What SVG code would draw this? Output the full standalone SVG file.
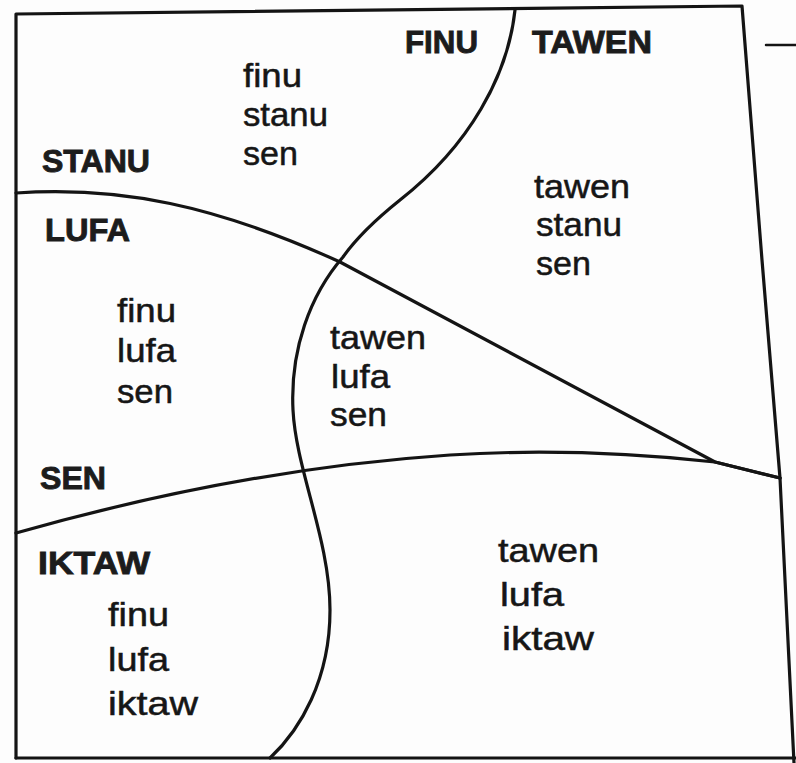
<svg xmlns="http://www.w3.org/2000/svg" width="796" height="763" viewBox="0 0 796 763">
<style>
.ln{fill:none;stroke:#141414;stroke-width:3.2;stroke-linejoin:round;stroke-linecap:round}
.b{font-family:"Liberation Sans",Arial,sans-serif;font-weight:bold;font-size:32px;fill:#1c1c1c;stroke:#1c1c1c;stroke-width:0.9}
.r{font-family:"Liberation Sans",Arial,sans-serif;font-size:33px;fill:#161616;stroke:#161616;stroke-width:0.5}
</style>
<rect width="796" height="763" fill="#fdfdfd"/>
<g id="border">
<path class="ln" d="M16,758 L16,14 L742,6 L762,260 L780,478 L794,763"/>
<path class="ln" d="M16,758 L796,758"/>
<path class="ln" d="M766,45 L796,45" style="stroke-width:2.5"/>
</g>
<g id="connectors">
<path id="stanu-lufa" class="ln" d="M16,193 C120,186 215,205 340,262 L715,462 L780,478"/>
<path id="sen-line" class="ln" d="M16,533 C150,495 300,465 450,455 C560,448 650,455 715,462 L780,478"/>
<path id="finu-tawen" class="ln" d="M515,10 C508,75 470,145 400,200 C375,220 355,240 343,257 C310,295 290,350 293,410 C296,470 330,540 330,610 C330,680 300,730 270,758"/>
</g>
<g id="label-FINU"><text class="b" x="405" y="53" textLength="73" lengthAdjust="spacingAndGlyphs">FINU</text></g>
<g id="label-TAWEN"><text class="b" x="532" y="53" textLength="120" lengthAdjust="spacingAndGlyphs">TAWEN</text></g>
<g id="label-STANU"><text class="b" x="42" y="172" textLength="108" lengthAdjust="spacingAndGlyphs">STANU</text></g>
<g id="label-LUFA"><text class="b" x="45" y="241" textLength="85" lengthAdjust="spacingAndGlyphs">LUFA</text></g>
<g id="label-SEN"><text class="b" x="40" y="489" textLength="66" lengthAdjust="spacingAndGlyphs">SEN</text></g>
<g id="label-IKTAW"><text class="b" x="38" y="574" textLength="112" lengthAdjust="spacingAndGlyphs">IKTAW</text></g>
<g id="region-finu-stanu-sen">
<text class="r" x="243" y="87" textLength="59" lengthAdjust="spacingAndGlyphs">finu</text>
<text class="r" x="243" y="126" textLength="85" lengthAdjust="spacingAndGlyphs">stanu</text>
<text class="r" x="243" y="165" textLength="55" lengthAdjust="spacingAndGlyphs">sen</text>
</g>
<g id="region-tawen-stanu-sen">
<text class="r" x="534" y="198" textLength="96" lengthAdjust="spacingAndGlyphs">tawen</text>
<text class="r" x="536" y="236" textLength="86" lengthAdjust="spacingAndGlyphs">stanu</text>
<text class="r" x="536" y="275" textLength="55" lengthAdjust="spacingAndGlyphs">sen</text>
</g>
<g id="region-finu-lufa-sen">
<text class="r" x="117" y="322" textLength="59" lengthAdjust="spacingAndGlyphs">finu</text>
<text class="r" x="117" y="362" textLength="59" lengthAdjust="spacingAndGlyphs">lufa</text>
<text class="r" x="117" y="403" textLength="56" lengthAdjust="spacingAndGlyphs">sen</text>
</g>
<g id="region-tawen-lufa-sen">
<text class="r" x="330" y="349" textLength="96" lengthAdjust="spacingAndGlyphs">tawen</text>
<text class="r" x="331" y="388" textLength="59" lengthAdjust="spacingAndGlyphs">lufa</text>
<text class="r" x="330" y="426" textLength="57" lengthAdjust="spacingAndGlyphs">sen</text>
</g>
<g id="region-finu-lufa-iktaw">
<text class="r" x="108" y="626" textLength="61" lengthAdjust="spacingAndGlyphs">finu</text>
<text class="r" x="108" y="671" textLength="61" lengthAdjust="spacingAndGlyphs">lufa</text>
<text class="r" x="108" y="715" textLength="90" lengthAdjust="spacingAndGlyphs">iktaw</text>
</g>
<g id="region-tawen-lufa-iktaw">
<text class="r" x="498" y="562" textLength="101" lengthAdjust="spacingAndGlyphs">tawen</text>
<text class="r" x="500" y="606" textLength="64" lengthAdjust="spacingAndGlyphs">lufa</text>
<text class="r" x="502" y="650" textLength="92" lengthAdjust="spacingAndGlyphs">iktaw</text>
</g>
</svg>
